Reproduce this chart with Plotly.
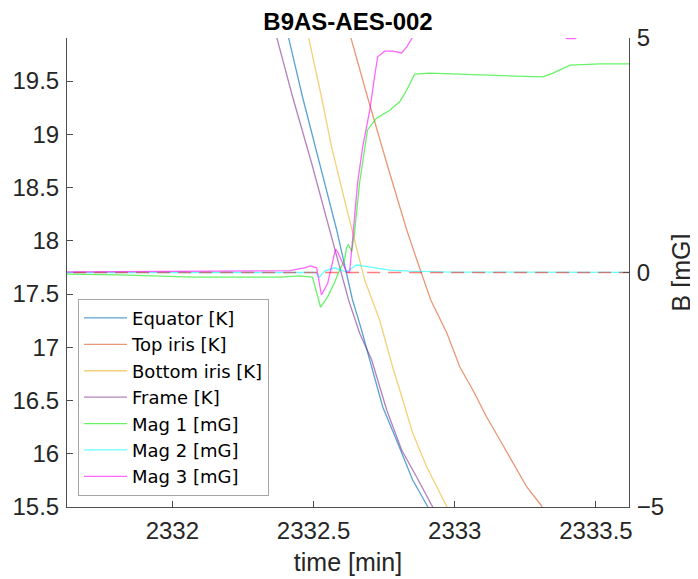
import plotly.graph_objects as go

# ---- data ----
equator_t = [2332.30, 2332.411, 2332.461, 2332.521, 2332.582, 2332.638, 2332.670, 2332.699,
             2332.745, 2332.798, 2332.851, 2332.901, 2332.95]
equator_T = [20.60, 19.913, 19.350, 18.730, 18.101, 17.444, 17.162, 16.880,
             16.439, 16.101, 15.754, 15.519, 15.25]

topiris_t = [2332.58, 2332.631, 2332.691, 2332.759, 2332.830, 2332.872, 2332.915, 2332.972,
             2333.018, 2333.064, 2333.113, 2333.160, 2333.206, 2333.255, 2333.305, 2333.36]
topiris_T = [20.40, 19.913, 19.350, 18.730, 18.101, 17.772, 17.444, 17.134,
             16.815, 16.599, 16.345, 16.129, 15.913, 15.688, 15.519, 15.25]

botiris_t = [2332.42, 2332.482, 2332.528, 2332.564, 2332.621, 2332.681, 2332.734, 2332.780,
             2332.816, 2332.851, 2332.901, 2332.947, 2332.968, 2333.02]
botiris_T = [20.50, 19.913, 19.350, 18.880, 18.261, 17.631, 17.256, 16.815,
             16.505, 16.195, 15.876, 15.631, 15.519, 15.25]

frame_t = [2332.30, 2332.369, 2332.426, 2332.493, 2332.557, 2332.624, 2332.663, 2332.706,
           2332.759, 2332.812, 2332.865, 2332.918, 2332.97]
frame_T = [20.60, 19.913, 19.350, 18.730, 18.101, 17.444, 17.134, 16.880,
           16.411, 16.035, 15.782, 15.519, 15.26]

mag1_t = [2331.599, 2331.812, 2332.074, 2332.379, 2332.450, 2332.496, 2332.525, 2332.550,
          2332.574, 2332.592, 2332.610, 2332.617, 2332.624, 2332.635, 2332.645, 2332.663,
          2332.691, 2332.723, 2332.770, 2332.805, 2332.830, 2332.858, 2332.911, 2333.018,
          2333.149, 2333.206, 2333.312, 2333.348, 2333.408, 2333.514, 2333.638]
mag1_B = [-0.03, -0.05, -0.10, -0.10, -0.07, -0.10, -0.74, -0.52,
          -0.22, 0.05, 0.27, 0.54, 0.59, 0.44, 0.84, 1.91,
          3.04, 3.29, 3.46, 3.64, 3.89, 4.23, 4.25, 4.23,
          4.19, 4.19, 4.17, 4.25, 4.42, 4.45, 4.45]

mag2_t = [2331.599, 2332.096, 2332.486, 2332.507, 2332.521, 2332.539, 2332.574, 2332.596,
          2332.617, 2332.635, 2332.652, 2332.674, 2332.723, 2332.770, 2332.840, 2332.982,
          2333.656]
mag2_B = [0.0, 0.0, 0.01, 0.0, -0.10, 0.03, 0.10, 0.05,
          0.01, 0.09, 0.16, 0.14, 0.10, 0.05, 0.03, 0.01,
          0.0]

mag3_t = [2331.599, 2332.096, 2332.415, 2332.468, 2332.489, 2332.511, 2332.528, 2332.550,
          2332.564, 2332.578, 2332.585, 2332.603, 2332.617, 2332.628, 2332.638, 2332.656,
          2332.674, 2332.699, 2332.716, 2332.727, 2332.752, 2332.780, 2332.812, 2332.830,
          2332.851, 2332.911, 2333.089, 2333.266, 2333.372, 2333.397, 2333.426, 2333.461,
          2333.585, 2333.656]
mag3_B = [0.01, 0.03, 0.04, 0.10, 0.14, 0.10, -0.48, -0.23,
          0.12, 0.50, 0.44, 0.20, 0.01, 0.01, 0.70, 1.91,
          2.68, 3.46, 4.17, 4.60, 4.72, 4.72, 4.68, 4.81,
          5.02, 5.60, 5.90, 5.50, 5.10, 4.985, 4.985, 5.15,
          5.60, 5.70]

zero_t = [2331.5, 2333.7]
zero_B = [0, 0]

x_range = [2331.627, 2333.617]
y_left_range = [15.5, 19.904]
y_right_range = [-5, 5]
x_ticks = [2332, 2332.5, 2333, 2333.5]
x_tick_text = ["2332", "2332.5", "2333", "2333.5"]
y_left_ticks = [15.5, 16, 16.5, 17, 17.5, 18, 18.5, 19, 19.5]
y_right_ticks = [-5, 0, 5]

FONT = "Liberation Sans, Arial, Helvetica, sans-serif"
TXT = "#262626"
AX = "#4d4d4d"

# the page body has a default 8px margin, so the figure is sized to fit inside it
W, H = 690, 571

fig = go.Figure()

temp_series = [
    ("Equator [K]", equator_t, equator_T, "rgba(0,114,189,0.65)"),
    ("Top iris [K]", topiris_t, topiris_T, "rgba(217,83,25,0.6)"),
    ("Bottom iris [K]", botiris_t, botiris_T, "rgba(237,177,32,0.6)"),
    ("Frame [K]", frame_t, frame_T, "rgba(126,47,142,0.6)"),
]
for name, t, v, c in temp_series:
    fig.add_trace(go.Scatter(x=t, y=v, mode="lines", name=name,
                             line=dict(color=c, width=1.3), yaxis="y"))

mag_series = [
    ("Mag 1 [mG]", mag1_t, mag1_B, "rgba(0,235,0,0.6)"),
    ("Mag 2 [mG]", mag2_t, mag2_B, "rgba(0,255,255,0.6)"),
    ("Mag 3 [mG]", mag3_t, mag3_B, "rgba(255,0,255,0.6)"),
]
for name, t, v, c in mag_series:
    fig.add_trace(go.Scatter(x=t, y=v, mode="lines", name=name,
                             line=dict(color=c, width=1.3), yaxis="y2"))

fig.add_trace(go.Scatter(x=zero_t, y=zero_B, mode="lines", showlegend=False,
                         line=dict(color="rgba(255,0,0,0.5)", width=1.6, dash="13px,8px"),
                         yaxis="y2", hoverinfo="skip"))

fig.update_layout(
    width=W, height=H,
    margin=dict(l=59, r=69, t=30, b=72, autoexpand=False),
    paper_bgcolor="white", plot_bgcolor="white",
    font=dict(family=FONT, size=24, color=TXT),
    title=dict(text="<b>B9AS-AES-002</b>", x=0.5, xref="paper", xanchor="center",
               y=1 - 13.5 / H, yref="container", yanchor="middle",
               font=dict(size=24, color="black")),
    showlegend=True,
    legend=dict(x=0.0196, y=0.444, xanchor="left", yanchor="top",
                bgcolor="white", bordercolor="#a6a6a6", borderwidth=1,
                font=dict(family="DejaVu Sans", size=18, color="black"),
                tracegroupgap=0, itemwidth=43),
    xaxis=dict(range=x_range, tickvals=x_ticks, ticktext=x_tick_text, automargin=False,
               showgrid=False, zeroline=False, showline=True, linecolor=AX, linewidth=1,
               ticks="inside", ticklen=6, tickcolor=AX, ticklabelstandoff=2,
               title=dict(text="time [min]", font=dict(size=25), standoff=10),
               tickfont=dict(size=24)),
    yaxis=dict(range=y_left_range, tickvals=y_left_ticks, automargin=False,
               showgrid=False, zeroline=False, showline=True, linecolor=AX, linewidth=1,
               ticks="inside", ticklen=6, tickcolor=AX, ticklabelstandoff=2,
               tickfont=dict(size=24)),
    yaxis2=dict(range=y_right_range, tickvals=y_right_ticks, overlaying="y", side="right",
                automargin=False,
                showgrid=False, zeroline=False, showline=True, linecolor=AX, linewidth=1,
                ticks="inside", ticklen=6, tickcolor=AX, ticklabelstandoff=2,
                tickfont=dict(size=24),
                title=dict(text="B [mG]", font=dict(size=25), standoff=9)),
)

fig.write_html("out.html")
